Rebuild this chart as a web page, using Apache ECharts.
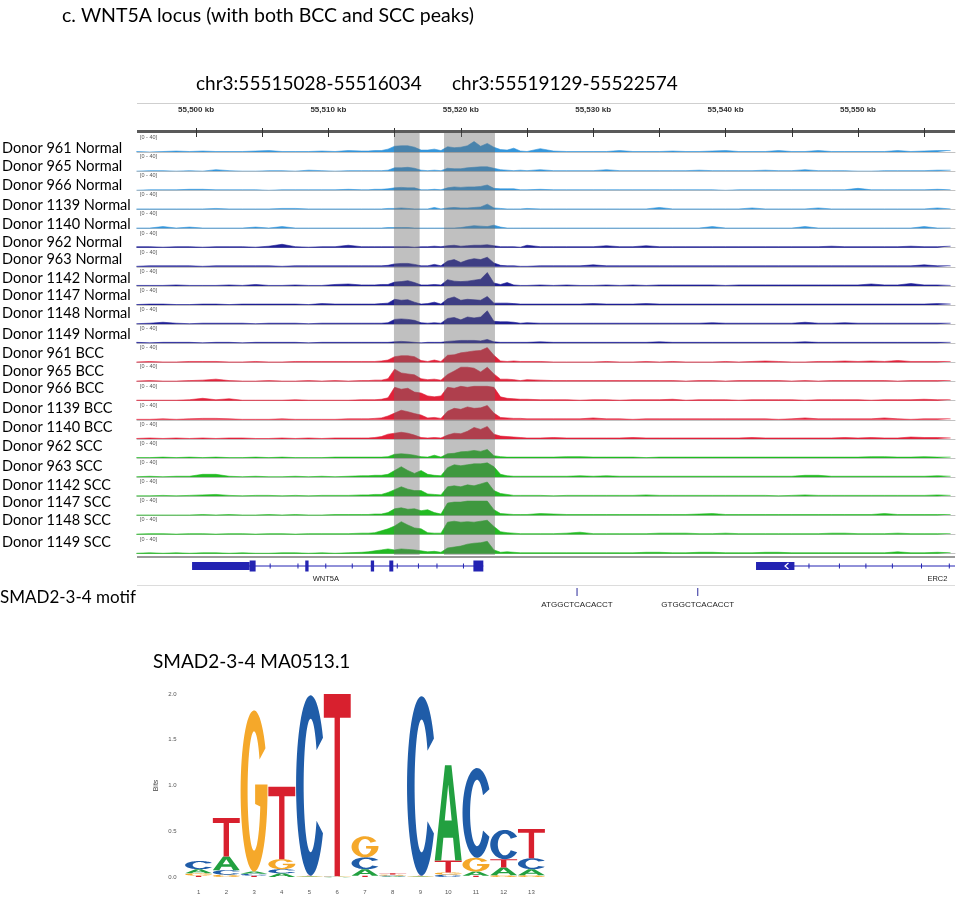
<!DOCTYPE html>
<html><head><meta charset="utf-8">
<script src="https://cdn.jsdelivr.net/npm/echarts@6/dist/echarts.min.js"></script>
<style>html,body{margin:0;padding:0;background:#fff}#c{width:960px;height:897px}</style>
</head><body><div id="c"></div>
<script>
// ---------------- DATA ----------------
const donors = ['961','965','966','1139','1140','962','963','1142','1147','1148','1149',
                '961','965','966','1139','1140','962','963','1142','1147','1148','1149'];
const conditions = ['Normal','Normal','Normal','Normal','Normal','Normal','Normal','Normal','Normal','Normal','Normal',
                    'BCC','BCC','BCC','BCC','BCC','SCC','SCC','SCC','SCC','SCC','SCC'];
const trackGroup = ['n1','n1','n1','n1','n1','n2','n2','n2','n2','n2','n2','bcc','bcc','bcc','bcc','bcc','scc','scc','scc','scc','scc','scc'];
const dataRangeMin = 0, dataRangeMax = 40;
// bin centres (kb on chr3)
const binKb = [55495.5,55496.5,55497.5,55498.5,55499.5,55500.5,55501.5,55502.5,55503.5,55504.5,55505.5,55506.5,55507.5,55508.5,55509.5,55510.5,55511.5,55512.5,
  55513,55513.5,55514,55514.5,55515,55515.5,55516,55516.5,55517,55517.5,55518,55518.5,55519,55519.5,55520,55520.5,55521,55521.5,55522,55522.5,55523,55523.5,55524,55524.5,55525,
  55526,55527,55528,55529,55530,55531,55532,55533,55534,55535,55536,55537,55538,55539,55540,55541,55542,55543,55544,55545,55546,55547,55548,55549,55550,55551,55552,55553,55554,55555,55556,55557];
// coverage (0-40) per track
const cov961N = [1,0,1,2,1,2,1,1,1,2,3,1,1,1,2,1,3,2, 2,3,3,6,12,13,13,10,4,4,6,3,11,9,10,13,22,12,18,10,5,4,8,2,1, 7,2,1,1,1,1,3,1,1,1,2,1,1,2,3,1,1,1,3,1,1,3,1,1,1,1,1,3,1,2,3,3];
const cov965N = [0,1,1,0,1,0,3,1,0,0,1,1,0,2,1,0,1,1, 1,1,1,2,7,7,8,6,2,1,2,1,6,5,5,7,8,9,9,6,3,2,1,2,1, 3,1,1,1,1,3,1,1,1,1,1,1,2,1,1,1,1,2,1,1,3,1,1,1,0,0,1,1,1,1,2,2];
const cov966N = [0,1,1,1,2,2,1,1,1,1,0,1,1,1,1,1,2,1, 1,2,2,3,5,6,5,5,1,1,2,1,5,7,6,7,7,8,11,4,3,3,3,1,1, 2,1,1,1,1,1,1,1,1,1,1,1,1,1,0,1,1,1,1,1,1,1,1,1,4,1,1,1,1,1,2,1];
const cov1139N = [1,1,1,1,1,1,2,1,1,1,1,2,2,1,1,1,1,1, 1,1,1,2,2,3,2,1,1,1,4,1,3,4,3,3,4,5,11,3,2,1,1,1,2, 1,1,1,1,1,1,1,1,1,4,1,1,1,1,1,1,3,1,1,1,1,3,1,1,1,1,1,1,1,1,3,1];
const cov1140N = [1,1,4,1,3,1,1,1,1,3,1,4,1,1,1,1,1,1, 1,1,1,2,2,2,2,1,1,1,1,1,1,1,2,4,6,5,4,7,3,1,1,1,1, 1,1,1,1,1,1,1,1,1,1,1,1,1,4,1,1,1,1,1,1,4,1,1,1,1,1,1,1,1,4,1,1];
const cov962N = [2,2,1,2,2,1,2,2,2,1,3,7,2,1,2,2,5,2, 2,2,2,2,2,2,2,1,2,2,3,2,4,5,3,4,5,5,6,4,2,2,2,1,5, 2,2,2,2,2,4,2,2,4,2,2,2,2,2,2,2,2,2,2,2,2,2,3,2,2,2,2,2,3,2,2,3];
const cov963N = [1,2,2,2,2,1,2,2,2,2,2,1,2,2,2,2,2,2, 2,2,2,3,6,7,7,5,2,2,5,2,12,15,9,14,17,15,20,8,3,2,2,1,1, 2,2,2,2,4,2,2,2,2,2,2,2,2,2,2,2,2,2,2,2,2,2,2,2,2,2,2,2,2,4,2,2];
const cov1142N = [1,1,1,2,1,1,1,2,1,3,1,1,2,1,1,3,4,2, 2,2,3,3,8,9,11,7,2,2,3,2,13,10,9,10,12,14,28,6,3,7,2,1,1, 2,1,2,1,1,2,1,2,1,2,2,2,2,2,1,2,2,2,2,2,2,2,2,2,2,4,2,2,5,2,2,1];
const cov1147N = [1,2,2,1,1,2,2,1,2,2,2,2,2,1,3,2,2,2, 2,2,3,4,12,10,11,6,2,3,6,2,13,17,10,12,11,10,18,4,4,4,3,2,2, 2,2,2,2,3,2,2,2,3,2,2,2,2,2,2,2,2,2,2,2,2,2,2,2,2,2,2,2,2,2,3,2];
const cov1148N = [1,2,4,2,1,2,2,2,2,1,2,2,2,1,2,2,2,2, 2,2,2,3,10,11,10,8,3,2,3,2,12,14,9,15,13,15,28,6,5,5,4,2,3, 2,2,2,2,2,2,2,2,2,2,2,2,2,3,2,2,2,2,2,2,4,2,2,3,2,2,2,2,2,2,2,2];
const cov1149N = [2,1,2,2,2,1,2,2,1,2,2,2,2,1,2,2,2,2, 2,2,2,2,3,4,3,2,1,2,2,2,4,5,6,6,6,5,8,3,2,2,2,2,2, 3,2,2,2,2,2,2,2,2,3,2,2,2,2,2,2,2,2,2,2,3,2,2,2,2,2,2,2,2,2,2,2];
const cov961B = [1,2,1,1,2,2,2,1,1,2,1,1,2,2,2,2,2,2, 2,2,3,5,12,14,14,12,4,2,5,2,15,16,20,22,24,25,31,15,3,2,3,2,2, 2,1,1,1,1,2,1,1,2,1,2,1,1,1,2,1,2,3,2,1,1,2,2,3,2,3,2,4,2,2,2,2];
const cov965B = [1,2,1,1,2,3,5,2,1,1,2,1,1,2,1,2,1,2, 2,3,3,6,26,18,16,14,6,4,5,3,15,22,30,30,28,20,30,16,5,5,4,2,4, 3,2,2,2,2,2,2,2,2,2,2,1,2,2,1,2,2,2,2,1,2,1,2,2,2,2,2,1,2,2,2,2];
const cov966B = [1,1,1,1,2,5,2,4,1,1,1,1,2,1,1,1,1,2, 2,2,3,6,28,24,26,18,16,10,8,10,28,26,30,28,30,30,30,28,8,5,4,3,3, 2,2,2,1,2,2,1,2,2,2,3,1,2,2,2,1,2,2,2,2,1,2,2,2,2,1,2,2,2,3,2,2];
const cov1139B = [1,1,2,1,2,3,3,2,1,1,1,2,1,1,1,1,2,2, 2,3,4,8,14,20,17,13,10,4,5,3,18,24,22,27,24,25,30,14,5,4,3,3,2, 2,2,2,2,4,2,2,1,2,2,2,2,2,2,2,2,2,2,1,2,4,2,2,2,2,2,4,2,1,2,2,2];
const cov1140B = [1,2,1,2,1,2,1,2,2,1,1,2,1,2,1,2,2,2, 2,3,5,10,12,14,12,8,3,2,3,2,8,12,11,16,24,20,26,10,6,5,4,3,2, 2,3,2,2,2,2,2,3,2,2,2,2,2,2,2,2,3,2,2,2,2,2,2,3,2,3,2,2,4,3,3,2];
const cov962S = [1,1,2,1,2,1,2,1,1,2,1,2,1,1,1,2,2,2, 2,2,2,3,8,9,8,6,3,2,6,2,9,10,13,14,16,14,18,5,3,2,2,2,2, 2,2,3,3,2,2,2,2,1,2,2,2,2,2,2,2,2,2,2,2,2,2,2,2,2,3,3,2,2,3,2,2];
const cov963S = [1,2,1,2,2,6,6,2,1,2,1,1,2,1,2,1,2,3, 3,4,4,6,14,22,14,8,14,6,4,3,20,26,24,26,28,28,30,22,6,3,2,2,2, 2,2,2,3,2,3,2,2,2,2,2,2,2,2,2,2,2,2,2,2,4,4,2,2,2,2,2,2,2,2,3,2];
const cov1142S = [1,1,2,1,2,3,4,2,1,2,2,1,2,1,2,2,2,3, 3,4,4,8,14,20,15,12,12,5,4,3,20,22,20,24,22,26,30,12,6,4,2,2,2, 2,1,2,2,2,2,2,2,3,2,2,2,2,2,2,2,2,2,1,2,3,2,2,2,2,2,2,2,2,2,3,2];
const cov1147S = [1,1,1,1,1,2,1,2,1,1,2,1,2,1,1,2,2,2, 2,3,3,6,14,16,13,14,10,12,6,3,26,28,28,30,30,30,30,12,4,3,2,2,2, 4,3,2,2,2,2,2,2,2,2,2,2,3,4,2,2,2,2,2,2,2,2,2,2,2,2,4,2,2,2,2,2];
const cov1148S = [1,2,2,1,2,2,1,2,2,1,2,2,1,2,2,2,2,3, 3,4,8,12,18,27,20,14,12,4,3,3,26,28,26,27,26,28,30,17,6,4,3,2,2, 2,2,3,5,2,2,2,2,2,3,3,3,2,2,3,2,2,2,2,2,2,2,3,3,2,2,2,3,2,2,2,2];
const cov1149S = [1,2,1,2,1,2,2,1,2,1,1,2,2,1,2,1,2,3, 4,6,8,10,8,10,9,8,6,4,5,3,12,14,16,20,22,23,26,8,3,4,3,2,2, 2,2,2,2,2,2,2,2,3,3,2,2,3,3,2,2,2,3,3,2,2,2,2,2,2,2,2,4,2,2,3,2];
const tracks = [cov961N,cov965N,cov966N,cov1139N,cov1140N,cov962N,cov963N,cov1142N,cov1147N,cov1148N,cov1149N,
                cov961B,cov965B,cov966B,cov1139B,cov1140B,cov962S,cov963S,cov1142S,cov1147S,cov1148S,cov1149S];
// highlighted regions (kb, as drawn)
const regionLabels = ['chr3:55515028-55516034','chr3:55519129-55522574'];
const regionStart = [55514.95, 55518.73];
const regionEnd = [55516.89, 55522.58];
// ruler
const rulerTicks = [55500,55505,55510,55515,55520,55525,55530,55535,55540,55545,55550,55555];
const rulerLabels = [55500,55510,55520,55530,55540,55550];
// genes
const geneNames = ['WNT5A','ERC2'];
const geneStart = [55499.7, 55542.3];
const geneEnd = [55521.7, 55557.6];
const geneLabelKb = [55509.8, 55556.0];
const exonStart = [55499.7, 55504.05, 55508.25, 55513.2, 55514.6, 55520.95, 55542.3];
const exonEnd   = [55504.05, 55504.5, 55508.5, 55513.45, 55514.9, 55521.7, 55545.2];
const exonCoding = [0, 1, 1, 1, 1, 1, 0];
const intronMarkKb = [55505.6,55507.7,55509.8,55511.8,55515.2,55516.8,55518.2,55520.2,55546.3,55548.6,55550.6,55552.6,55554.8,55556.9];
const strandArrowKb = [55544.6];
// motif hits
const motifKb = [55528.78, 55537.9];
const motifSeq = ['ATGGCTCACACCT','GTGGCTCACACCT'];
// sequence logo (bits)
const logoPos = ['1','2','3','4','5','6','7','8','9','10','11','12','13'];
const logoA = [0.045,0.15,0.025,0.04,0.005,0.003,0.07,0.008,0.005,1.04,0.045,0.085,0.065];
const logoC = [0.09,0.05,0.02,0.045,1.97,0.003,0.13,0.008,1.96,0.025,0.98,0.32,0.12];
const logoG = [0.025,0.025,1.76,0.11,0.005,0.003,0.23,0.01,0.005,0.025,0.15,0.02,0.02];
const logoT = [0.015,0.42,0.015,0.79,0.005,1.99,0.015,0.015,0.005,0.13,0.015,0.09,0.32];

// ---------------- LAYOUT / STYLE ----------------
const PANEL_L = 137, PANEL_W = 818;
const X_MIN = 55495.54, X_MAX = 55557.33;
const TRACK_BASE0 = 152, TRACK_STEP = 19.13;
const labelY = [148,166.5,185,205,224,242,259,278,295,313.5,334,353.5,371,388,408,427.5,446.5,466.5,485,502.5,520.5,542.5];
const groupColor = {n1:'#3396dc', n2:'#1f1f96', bcc:'#e2223a', scc:'#22bb22'};
const LETTER_COLOR = {A:'#22a040', C:'#1f5ca8', G:'#f5a82a', T:'#d8202e'};
const CAL = 'Lato, "Open Sans", sans-serif';
const ARIAL = '"Liberation Sans", Arial, sans-serif';

function arcPts(cx,cy,rx,ry,a0,a1,n){const p=[];for(let i=0;i<=n;i++){const a=(a0+(a1-a0)*i/n)*Math.PI/180;p.push([cx+rx*Math.cos(a),cy-ry*Math.sin(a)]);}return p;}
function toPath(pts){return 'M'+pts.map(q=>q[0].toFixed(2)+' '+q[1].toFixed(2)).join(' L')+' Z';}
const GLYPH = {
  A: 'M0 100 L38 0 L62 0 L100 100 L76 100 L68 76 L32 76 L24 100 Z M37 58 L63 58 L50 20 Z',
  T: 'M0 0 L100 0 L100 13 L60 13 L60 100 L40 100 L40 13 L0 13 Z',
  C: toPath(arcPts(50,50,50,50,32,328,60).concat(arcPts(50,50,24,37,328,32,60))),
  G: toPath(arcPts(50,50,50,50,32,360,60).concat([[100,46],[54,46],[54,58]]).concat(arcPts(50,50,24,37,345,32,60)))
};

const grids=[], xAxes=[], yAxes=[], series=[], graphics=[];
const hiddenX = (gi)=>({type:'value', gridIndex:gi, min:X_MIN, max:X_MAX, show:false});
const hiddenY = (gi)=>({type:'value', gridIndex:gi, min:0, max:1, show:false});

// tracks
tracks.forEach((vals,i)=>{
  const base = TRACK_BASE0 + TRACK_STEP*i;
  const col = groupColor[trackGroup[i]];
  grids.push({left:PANEL_L, width:PANEL_W, top:base-TRACK_STEP, height:TRACK_STEP});
  xAxes.push({type:'value', gridIndex:i, min:X_MIN, max:X_MAX,
    axisLine:{show:true, lineStyle:{color:'#c2c2c2', width:1}}, axisTick:{show:false}, axisLabel:{show:false}, splitLine:{show:false}});
  yAxes.push({type:'value', gridIndex:i, min:dataRangeMin, max:dataRangeMax, show:false});
  series.push({type:'line', xAxisIndex:i, yAxisIndex:i, data:binKb.map((k,j)=>[k, vals[j]]),
    symbol:'none', silent:true, animation:false, z:2,
    lineStyle:{color:col, width:0.6}, areaStyle:{color:col, opacity:1}});
  graphics.push({type:'text', x:140, y:base-TRACK_STEP+1.5, z:20,
    style:{text:'['+dataRangeMin+' - '+dataRangeMax+']', font:'5.5px '+ARIAL, fill:'#555', verticalAlign:'top'}});
  graphics.push({type:'text', x:2, y:labelY[i],
    style:{text:'Donor '+donors[i]+' '+conditions[i], font:'14.5px '+CAL, fill:'#000', verticalAlign:'middle'}});
});
let gi = tracks.length;

// ruler
grids.push({left:PANEL_L, width:PANEL_W, top:118, height:10});
xAxes.push({type:'value', gridIndex:gi, min:X_MIN, max:X_MAX, position:'top',
  axisLine:{show:false}, splitLine:{show:false},
  axisTick:{show:true, inside:true, length:9, customValues:rulerTicks, lineStyle:{color:'#333', width:1}},
  axisLabel:{show:true, customValues:rulerLabels, margin:4, fontSize:8, fontWeight:'bold', color:'#333', fontFamily:ARIAL,
    formatter:v=>String(Math.round(v)).replace(/\B(?=(\d{3})+(?!\d))/g, ',')+' kb'}});
yAxes.push(hiddenY(gi));
gi++;

// highlight overlay
grids.push({left:PANEL_L, width:PANEL_W, top:133, height:422});
xAxes.push(hiddenX(gi)); yAxes.push(hiddenY(gi));
series.push({type:'custom', xAxisIndex:gi, yAxisIndex:gi, z:10, silent:true, animation:false,
  data:regionStart.map((s,i)=>[s, regionEnd[i]]), encode:{x:[0,1]},
  renderItem:(p,api)=>{const a=api.coord([api.value(0),1]); const b=api.coord([api.value(1),0]);
    return {type:'rect', shape:{x:a[0], y:a[1], width:b[0]-a[0], height:b[1]-a[1]}, style:{fill:'rgba(105,105,105,0.42)'}};}});
gi++;

// gene track
grids.push({left:PANEL_L, width:PANEL_W, top:560, height:12});
xAxes.push(hiddenX(gi)); yAxes.push(hiddenY(gi));
const GENE_COL = '#2323b2';
series.push({type:'custom', xAxisIndex:gi, yAxisIndex:gi, silent:true, animation:false, clip:true,
  data:geneStart.map((s,i)=>[s, geneEnd[i]]), encode:{x:[0,1]},
  renderItem:(p,api)=>{const a=api.coord([api.value(0),0.5]); const b=api.coord([api.value(1),0.5]);
    return {type:'line', shape:{x1:a[0], y1:a[1], x2:b[0], y2:b[1]}, style:{stroke:GENE_COL, lineWidth:1}};}});
series.push({type:'custom', xAxisIndex:gi, yAxisIndex:gi, silent:true, animation:false, clip:true,
  data:intronMarkKb.map(k=>[k]), encode:{x:0},
  renderItem:(p,api)=>{const a=api.coord([api.value(0),0.5]);
    return {type:'line', shape:{x1:a[0], y1:a[1]-2.5, x2:a[0], y2:a[1]+2.5}, style:{stroke:GENE_COL, lineWidth:1}};}});
series.push({type:'custom', xAxisIndex:gi, yAxisIndex:gi, silent:true, animation:false, z:3,
  data:exonStart.map((s,i)=>[s, exonEnd[i], exonCoding[i]]), encode:{x:[0,1]},
  renderItem:(p,api)=>{const a=api.coord([api.value(0),0.5]); const b=api.coord([api.value(1),0.5]);
    const h = api.value(2) ? 11 : 8;
    return {type:'rect', shape:{x:a[0], y:a[1]-h/2, width:Math.max(b[0]-a[0],1.5), height:h}, style:{fill:GENE_COL}};}});
series.push({type:'custom', xAxisIndex:gi, yAxisIndex:gi, silent:true, animation:false, z:4,
  data:strandArrowKb.map(k=>[k]), encode:{x:0},
  renderItem:(p,api)=>{const a=api.coord([api.value(0),0.5]);
    return {type:'polyline', shape:{points:[[a[0]+2,a[1]-3],[a[0]-1.5,a[1]],[a[0]+2,a[1]+3]]}, style:{stroke:'#fff', lineWidth:1.2, fill:null}};}});
series.push({type:'custom', xAxisIndex:gi, yAxisIndex:gi, silent:true, animation:false,
  data:geneLabelKb.map((k,i)=>[k, i]), encode:{x:0},
  renderItem:(p,api)=>{const a=api.coord([api.value(0),0.5]);
    return {type:'text', x:a[0], y:a[1]+13, style:{text:geneNames[api.value(1)], font:'7.5px '+ARIAL, fill:'#222', align:'center', verticalAlign:'middle'}};}});
gi++;

// motif track
grids.push({left:PANEL_L, width:PANEL_W, top:588, height:9});
xAxes.push(hiddenX(gi)); yAxes.push(hiddenY(gi));
series.push({type:'custom', xAxisIndex:gi, yAxisIndex:gi, silent:true, animation:false,
  data:motifKb.map((k,i)=>[k, i]), encode:{x:0},
  renderItem:(p,api)=>{const t=api.coord([api.value(0),1]); const b=api.coord([api.value(0),0]);
    return {type:'group', children:[
      {type:'line', shape:{x1:t[0], y1:t[1], x2:b[0], y2:b[1]-1}, style:{stroke:'#2a2a9a', lineWidth:1}},
      {type:'text', x:b[0], y:b[1]+7.5, style:{text:motifSeq[api.value(1)], font:'8px '+ARIAL, fill:'#222', align:'center', verticalAlign:'middle'}}]};}});
gi++;

// sequence logo
grids.push({left:184.7, width:360.6, top:694, height:183});
xAxes.push({type:'category', gridIndex:gi, data:logoPos, boundaryGap:true,
  axisLine:{show:false}, axisTick:{show:false}, splitLine:{show:false},
  axisLabel:{fontSize:6, color:'#555', margin:12, fontFamily:ARIAL}});
yAxes.push({type:'value', gridIndex:gi, min:0, max:2, interval:0.5,
  axisLine:{show:false}, axisTick:{show:false}, splitLine:{show:false},
  axisLabel:{fontSize:6, color:'#555', margin:8, fontFamily:ARIAL, formatter:v=>v.toFixed(1)},
  name:'Bits', nameLocation:'middle', nameGap:25, nameRotate:90, nameTextStyle:{fontSize:7, color:'#444', fontFamily:ARIAL}});
series.push({type:'custom', xAxisIndex:gi, yAxisIndex:gi, silent:true, animation:false,
  data:logoPos.map((p,i)=>[i, logoA[i], logoC[i], logoG[i], logoT[i]]), encode:{x:0, y:1},
  renderItem:(params,api)=>{
    const idx=api.value(0);
    const hs=['A','C','G','T'].map((L,k)=>({L, h:api.value(k+1)})).sort((a,b)=>a.h-b.h);
    const w=api.size([1,0])[0]*0.97;
    const cx=api.coord([idx,0])[0];
    let cum=0; const children=[];
    hs.forEach(({L,h})=>{
      if(h<=0) return;
      const yb=api.coord([idx,cum])[1], yt=api.coord([idx,cum+h])[1];
      children.push({type:'path', shape:{pathData:GLYPH[L], x:cx-w/2, y:yt, width:w, height:Math.max(yb-yt,0.4), layout:'cover'}, style:{fill:LETTER_COLOR[L]}});
      cum+=h;
    });
    return {type:'group', children};
  }});
gi++;

// static texts & frame lines
graphics.push({type:'text', x:62, y:16, style:{text:'c. WNT5A locus (with both BCC and SCC peaks)', font:'19.5px '+CAL, fill:'#000', verticalAlign:'middle'}});
graphics.push({type:'text', x:196, y:84, style:{text:regionLabels[0], font:'19px '+CAL, fill:'#000', verticalAlign:'middle'}});
graphics.push({type:'text', x:452, y:84, style:{text:regionLabels[1], font:'19px '+CAL, fill:'#000', verticalAlign:'middle'}});
graphics.push({type:'text', x:0, y:598, style:{text:'SMAD2-3-4 motif', font:'17px '+CAL, fill:'#000', verticalAlign:'middle'}});
graphics.push({type:'text', x:153, y:662, style:{text:'SMAD2-3-4 MA0513.1', font:'19px '+CAL, fill:'#000', verticalAlign:'middle'}});
graphics.push({type:'rect', shape:{x:PANEL_L, y:103, width:PANEL_W, height:1}, style:{fill:'#cfcfcf'}});
graphics.push({type:'rect', shape:{x:PANEL_L, y:130, width:PANEL_W, height:3}, style:{fill:'#5a5a5a'}});
graphics.push({type:'rect', shape:{x:PANEL_L, y:556, width:PANEL_W, height:2}, style:{fill:'#9a9a9a'}});
graphics.push({type:'rect', shape:{x:PANEL_L, y:585, width:PANEL_W, height:1}, style:{fill:'#dcdcdc'}});

const chart = echarts.init(document.getElementById('c'), null, {renderer:'canvas', width:960, height:897});
chart.setOption({
  backgroundColor:'#ffffff', animation:false,
  grid:grids, xAxis:xAxes, yAxis:yAxes, series:series, graphic:{elements:graphics}
});
</script></body></html>
